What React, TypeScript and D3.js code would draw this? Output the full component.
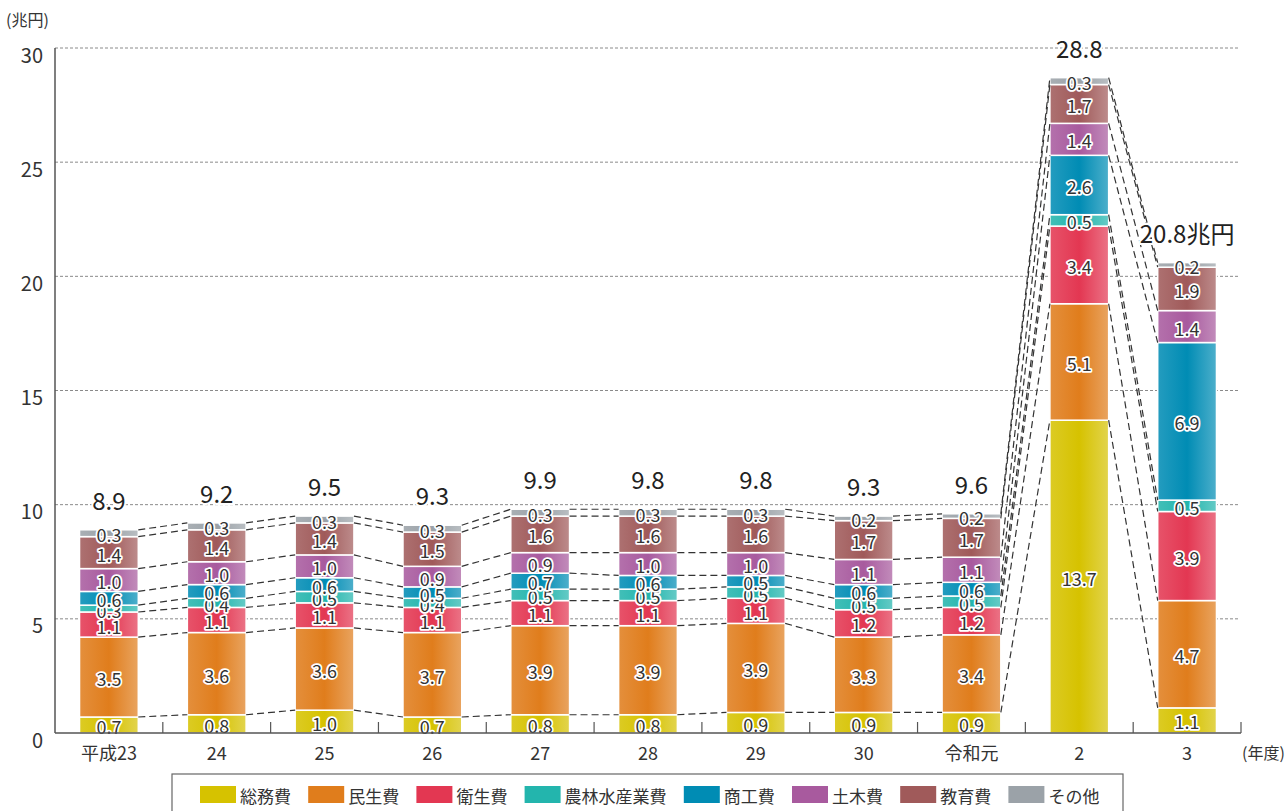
import React from "react";
import * as d3 from "d3";

const categories = ["平成23", "24", "25", "26", "27", "28", "29", "30", "令和元", "2", "3"];
const seriesNames = ["総務費", "民生費", "衛生費", "農林水産業費", "商工費", "土木費", "教育費", "その他"];
const seriesColors = ["#d6c200", "#e07d1c", "#e33752", "#23b5ad", "#008cb4", "#a85a9e", "#a05a5a", "#9ba2a8"];

const somu = [0.7, 0.8, 1.0, 0.7, 0.8, 0.8, 0.9, 0.9, 0.9, 13.7, 1.1];
const minsei = [3.5, 3.6, 3.6, 3.7, 3.9, 3.9, 3.9, 3.3, 3.4, 5.1, 4.7];
const eisei = [1.1, 1.1, 1.1, 1.1, 1.1, 1.1, 1.1, 1.2, 1.2, 3.4, 3.9];
const norin = [0.3, 0.4, 0.5, 0.4, 0.5, 0.5, 0.5, 0.5, 0.5, 0.5, 0.5];
const shoko = [0.6, 0.6, 0.6, 0.5, 0.7, 0.6, 0.5, 0.6, 0.6, 2.6, 6.9];
const doboku = [1.0, 1.0, 1.0, 0.9, 0.9, 1.0, 1.0, 1.1, 1.1, 1.4, 1.4];
const kyoiku = [1.4, 1.4, 1.4, 1.5, 1.6, 1.6, 1.6, 1.7, 1.7, 1.7, 1.9];
const sonota = [0.3, 0.3, 0.3, 0.3, 0.3, 0.3, 0.3, 0.2, 0.2, 0.3, 0.2];
const totalLabels = ["8.9", "9.2", "9.5", "9.3", "9.9", "9.8", "9.8", "9.3", "9.6", "28.8", "20.8兆円"];
const yTicks = [0, 5, 10, 15, 20, 25, 30];

const seriesValues = [somu, minsei, eisei, norin, shoko, doboku, kyoiku, sonota];

const W = 1288;
const H = 811;
const FONT = "'Noto Sans CJK JP', 'Noto Sans', sans-serif";

export default function App() {
  const x = d3.scaleBand<string>().domain(categories).range([55, 1241]).padding(0);
  const y = d3.scaleLinear().domain([0, 30]).range([733, 48]);
  const barW = x.bandwidth() * 0.545;

  const table = categories.map((c, i) => {
    const row: any = { cat: c };
    seriesNames.forEach((s, k) => (row[s] = seriesValues[k][i]));
    return row;
  });
  const stacked = d3.stack<any>().keys(seriesNames)(table);

  const barLeft = (i: number) => (x(categories[i]) as number) + (x.bandwidth() - barW) / 2;

  const lighten = (c: string, t: number) => d3.interpolateRgb(c, "#ffffff")(t);

  const connectors: JSX.Element[] = [];
  for (let i = 0; i < categories.length - 1; i++) {
    for (let k = 0; k < seriesNames.length; k++) {
      const y1 = y(stacked[k][i][1]);
      const y2 = y(stacked[k][i + 1][1]);
      connectors.push(
        <line
          key={`c${i}-${k}`}
          x1={barLeft(i) + barW}
          y1={y1}
          x2={barLeft(i + 1)}
          y2={y2}
          stroke="#333"
          strokeWidth={1.2}
          strokeDasharray="7,4"
        />
      );
    }
  }

  let lx = 200;
  const legendItems = seriesNames.map((s, k) => {
    const item = { name: s, color: seriesColors[k], x: lx };
    lx += 36 + 5 + s.length * 17 + 16.2;
    return item;
  });

  return (
    <svg
      width={W}
      height={H}
      style={{ position: "absolute", left: 0, top: 0, background: "#fff" }}
      fontFamily={FONT}
    >
      <defs>
        {seriesColors.map((c, k) => (
          <linearGradient key={k} id={`g${k}`} x1="0" x2="1" y1="0" y2="0">
            <stop offset="0" stopColor={lighten(c, 0.14)} />
            <stop offset="0.5" stopColor={c} />
            <stop offset="1" stopColor={lighten(c, 0.3)} />
          </linearGradient>
        ))}
      </defs>

      {yTicks.filter((t) => t > 0).map((t) => (
        <line key={`g${t}`} x1={55} x2={1238} y1={y(t)} y2={y(t)} stroke="#8a8a8a" strokeWidth={1} strokeDasharray="3,2" />
      ))}

      {yTicks.map((t) => (
        <text key={`yt${t}`} x={43} y={y(t) + 6} textAnchor="end" dominantBaseline="central" fontSize={20} fill="#333">
          {t}
        </text>
      ))}
      <text x={6} y={19} fontSize={16} fill="#333" dominantBaseline="central">(兆円)</text>

      {stacked.map((layer, k) =>
        layer.map((d, i) => (
          <rect
            key={`r${k}-${i}`}
            x={barLeft(i)}
            y={y(d[1])}
            width={barW}
            height={y(d[0]) - y(d[1])}
            fill={`url(#g${k})`}
            stroke="#fff"
            strokeWidth={1.5}
          />
        ))
      )}

      {connectors}

      {stacked.map((layer, k) =>
        layer.map((d, i) => (
          <text
            key={`l${k}-${i}`}
            x={barLeft(i) + barW / 2}
            y={(y(d[0]) + y(d[1])) / 2 + 1}
            textAnchor="middle"
            dominantBaseline="central"
            fontSize={18}
            fill="#333"
            stroke="#fff"
            strokeWidth={3.5}
            strokeLinejoin="round"
            paintOrder="stroke"
          >
            {seriesValues[k][i].toFixed(1)}
          </text>
        ))
      )}

      {categories.map((c, i) => (
        <text
          key={`t${i}`}
          x={barLeft(i) + barW / 2}
          y={y(stacked[stacked.length - 1][i][1]) - 20}
          textAnchor="middle"
          fontSize={24}
          fill="#222"
          stroke="#fff"
          strokeWidth={4}
          paintOrder="stroke"
        >
          {totalLabels[i]}
        </text>
      ))}

      <line x1={55} x2={55} y1={48} y2={733} stroke="#555" strokeWidth={1.5} />
      <line x1={55} x2={1241} y1={733} y2={733} stroke="#555" strokeWidth={1.5} />
      {categories.map((c, i) => (
        <line
          key={`tk${i}`}
          x1={(x(c) as number) + x.bandwidth()}
          x2={(x(c) as number) + x.bandwidth()}
          y1={733}
          y2={722}
          stroke="#555"
          strokeWidth={1.2}
        />
      ))}
      {categories.map((c) => (
        <text
          key={`xl${c}`}
          x={(x(c) as number) + x.bandwidth() / 2}
          y={752}
          textAnchor="middle"
          dominantBaseline="central"
          fontSize={18}
          fill="#333"
        >
          {c}
        </text>
      ))}
      <text x={1242} y={752} dominantBaseline="central" fontSize={16} fill="#333">(年度)</text>

      <rect x={172} y={774} width={951} height={40} fill="none" stroke="#666" strokeWidth={1.2} />
      {legendItems.map((it) => (
        <g key={it.name}>
          <rect x={it.x} y={786} width={36} height={17} fill={it.color} />
          <text x={it.x + 40} y={795} dominantBaseline="central" fontSize={17} fill="#333">
            {it.name}
          </text>
        </g>
      ))}
    </svg>
  );
}
